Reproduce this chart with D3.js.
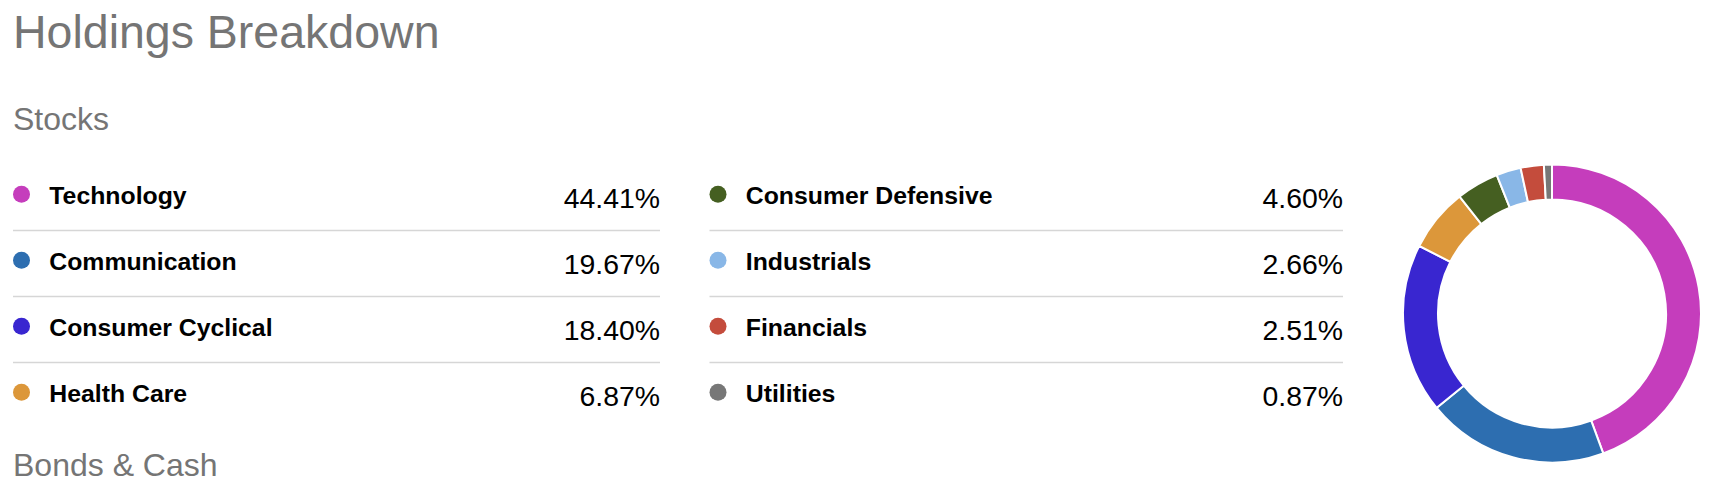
<!DOCTYPE html>
<html>
<head>
<meta charset="utf-8">
<script src="https://cdn.jsdelivr.net/npm/d3@7"></script>
<style>
  html, body { margin: 0; padding: 0; background: #fff; }
  svg { display: block; }
  text { font-family: "Liberation Sans", Arial, Helvetica, sans-serif; }
</style>
</head>
<body>
<svg id="chart" width="1722" height="498"></svg>
<script>
const categories = ["Technology", "Communication", "Consumer Cyclical", "Health Care",
                    "Consumer Defensive", "Industrials", "Financials", "Utilities"];
const values = [44.41, 19.67, 18.40, 6.87, 4.60, 2.66, 2.51, 0.87];
const colors = ["#c53dbc", "#2d6eb0", "#3926d0", "#dc973a",
                "#455f21", "#89b7e7", "#c44c3c", "#777777"];
const titleText = "Holdings Breakdown";
const sectionLabels = ["Stocks", "Bonds & Cash"];

const data = categories.map((c, i) => ({ name: c, value: values[i], color: colors[i], idx: i }));

const svg = d3.select("#chart");

// Headings
svg.append("text").attr("x", 13).attr("y", 47.5)
  .attr("font-size", 46.5).attr("fill", "#757575").text(titleText);
svg.append("text").attr("x", 13).attr("y", 129.5)
  .attr("font-size", 32).attr("fill", "#757575").text(sectionLabels[0]);
svg.append("text").attr("x", 13).attr("y", 476)
  .attr("font-size", 32).attr("fill", "#757575").text(sectionLabels[1]);

// Legend table scales
const rowsPerCol = 4;
const yRow = d3.scalePoint().domain(d3.range(rowsPerCol)).range([194.3, 392.3]);
const colStart = d3.scaleOrdinal().domain([0, 1]).range([13, 709.5]);
const colEnd = d3.scaleOrdinal().domain([0, 1]).range([660, 1343]);

const rows = svg.append("g").selectAll("g.row").data(data).join("g")
  .attr("class", "row")
  .attr("transform", d => `translate(0,${yRow(d.idx % rowsPerCol)})`);

rows.append("circle")
  .attr("cx", d => colStart(Math.floor(d.idx / rowsPerCol)) + 8.5)
  .attr("cy", 0).attr("r", 8.5)
  .attr("fill", d => d.color);

rows.append("text")
  .attr("x", d => colStart(Math.floor(d.idx / rowsPerCol)) + 36.3)
  .attr("y", 10)
  .attr("font-size", 24.8).attr("font-weight", "bold").attr("fill", "#000")
  .text(d => d.name);

rows.append("text")
  .attr("x", d => colEnd(Math.floor(d.idx / rowsPerCol)))
  .attr("y", 13.6)
  .attr("text-anchor", "end")
  .attr("font-size", 28.4).attr("fill", "#000")
  .text(d => d3.format(".2f")(d.value) + "%");

rows.filter(d => (d.idx % rowsPerCol) < rowsPerCol - 1)
  .append("line")
  .attr("x1", d => colStart(Math.floor(d.idx / rowsPerCol)))
  .attr("x2", d => colEnd(Math.floor(d.idx / rowsPerCol)))
  .attr("y1", 36.2).attr("y2", 36.2)
  .attr("stroke", "#d6d6d6").attr("stroke-width", 1.5);

// Donut
const cx = 1552, cy = 313.5, outerR = 149, innerR = 114;
const pie = d3.pie().sort(null).value(d => d.value).startAngle(0).endAngle(2 * Math.PI);
const arc = d3.arc().innerRadius(innerR).outerRadius(outerR);

svg.append("g").attr("transform", `translate(${cx},${cy})`)
  .selectAll("path").data(pie(data)).join("path")
  .attr("d", arc)
  .attr("fill", d => d.data.color)
  .attr("stroke", "#fff").attr("stroke-width", 2);
</script>
</body>
</html>
